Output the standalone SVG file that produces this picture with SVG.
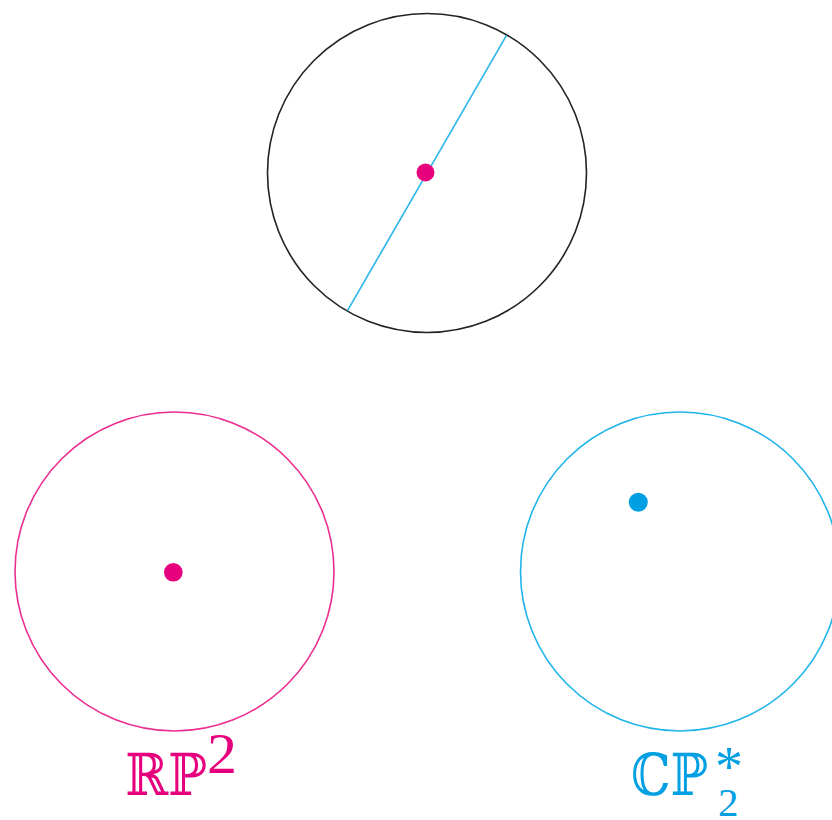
<svg xmlns="http://www.w3.org/2000/svg" width="832" height="820" viewBox="0 0 832 820">
<style>
.circ{fill:none;stroke-width:1.6}
.bb{font-family:"DejaVu Serif",serif;font-size:58px}
.num{font-family:"Liberation Serif","Times New Roman",serif}
</style>
<rect width="832" height="820" fill="#fff"/>
<g id="top">
<circle class="circ" cx="427" cy="173" r="159.5" stroke="#222"/>
<line x1="506.5" y1="35.3" x2="347.5" y2="310.7" stroke="#29b6ea" stroke-width="1.6"/>
<circle cx="425.5" cy="172.5" r="9" fill="#e6007e"/>
</g>
<g id="rp2">
<circle class="circ" cx="174.5" cy="571.5" r="159.5" stroke="#ec2d8f"/>
<circle cx="173.3" cy="572.3" r="9.3" fill="#e6007e"/>
<text class="bb" x="125" y="795" fill="#e6007e" textLength="82" lengthAdjust="spacingAndGlyphs">ℝℙ</text>
<text class="num" x="207" y="773" font-size="56" fill="#e6007e" textLength="30" lengthAdjust="spacingAndGlyphs">2</text>
</g>
<g id="cp2">
<circle class="circ" cx="680" cy="571.5" r="159.5" stroke="#1eb4ea"/>
<circle cx="638.3" cy="502.3" r="9.5" fill="#00a0e3"/>
<text class="bb" x="631" y="795" fill="#00a0e3" textLength="77" lengthAdjust="spacingAndGlyphs">ℂℙ</text>
<text class="num" x="715" y="786" font-size="56" fill="#00a0e3">*</text>
<text class="num" x="718" y="816" font-size="41" fill="#00a0e3">2</text>
</g>
</svg>
